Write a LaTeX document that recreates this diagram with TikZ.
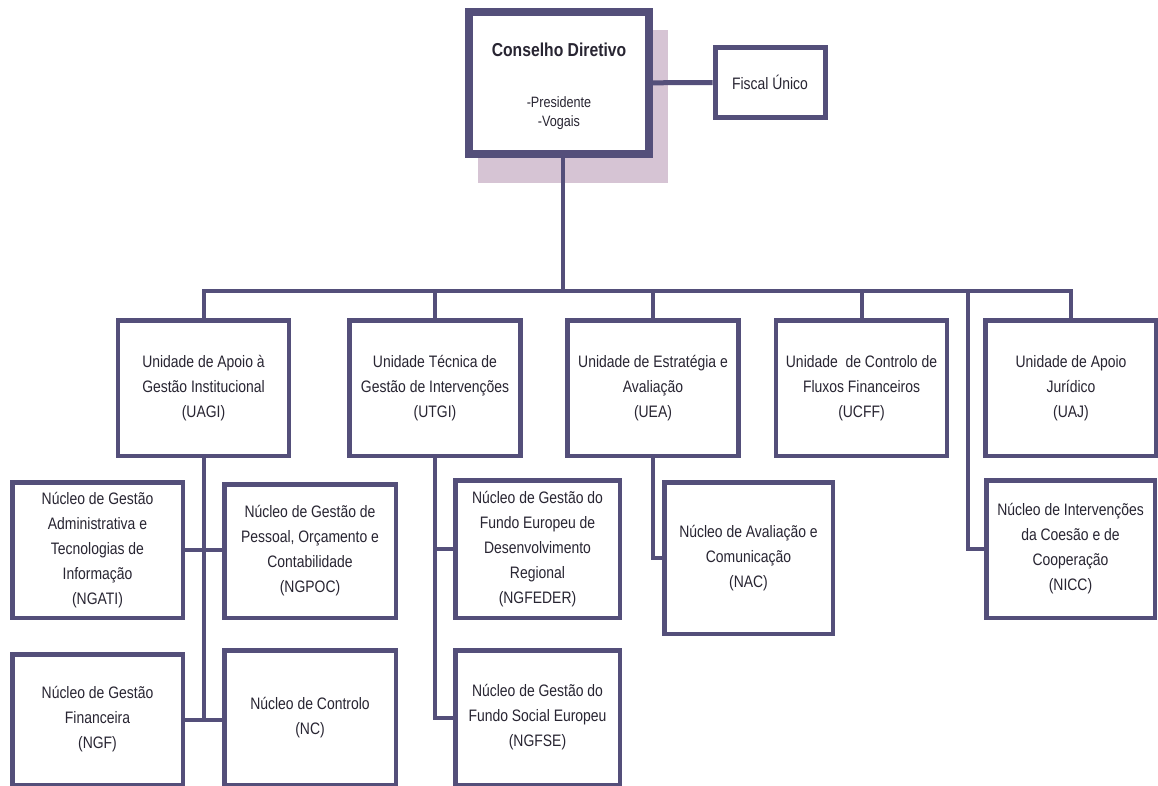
\documentclass[tikz,border=0pt]{standalone}
\usepackage{fontspec}
\setmainfont[FakeStretch=0.84]{Liberation Sans}
\definecolor{orgline}{RGB}{84,79,122}
\definecolor{orgshade}{RGB}{214,196,212}
\definecolor{orgtext}{RGB}{40,37,50}

\begin{document}
\begin{tikzpicture}[
			x = 1pt, y = -1pt,
			unit/.style = {draw=orgline, line width=4.5pt, fill=white, text=orgtext, align=center, inner sep=2pt, font=\fontsize{16.6}{25}\selectfont},
			toprow/.style = {unit, minimum width=171pt, minimum height=135.5pt},
			link/.style = {draw=orgline, line width=4pt}
			]

			\fill[white] (0,0) rectangle (1158,786);
			\useasboundingbox (0,0) rectangle (1158,786);

			\fill[orgshade] (478,30) rectangle (668,183);
			\node[unit, line width=8pt, minimum width=180pt, minimum height=142pt] (cd) at (559,83) {};
			\node[text=orgtext, font=\fontsize{18.7}{20}\bfseries] (cdtitle) at (559,50) {Conselho Diretivo};
			\node[text=orgtext, align=center, font=\fontsize{15}{19}\selectfont] (cdmembers) at (559,113) {-Presidente\\-Vogais};
			\node[unit, line width=5pt, minimum width=110pt, minimum height=70pt] (fu) at (770,82.5) {Fiscal Único};

			\node[toprow] (uagi) at (203.5,388) {Unidade de Apoio à\\Gestão Institucional\\(UAGI)};
			\node[toprow] (utgi) at (435,388) {Unidade Técnica de\\Gestão de Intervenções\\(UTGI)};
			\node[toprow] (uea) at (653,388) {Unidade de Estratégia e\\Avaliação\\(UEA)};
			\node[toprow] (ucff) at (861.5,388) {Unidade~ de Controlo de\\Fluxos Financeiros\\(UCFF)};
			\node[toprow] (uaj) at (1071,388) {Unidade de Apoio\\Jurídico\\(UAJ)};

			\node[unit, minimum width=170.5pt, minimum height=135.5pt] (ngati) at (97.5,550) {Núcleo de Gestão\\Administrativa e\\Tecnologias de\\Informação\\(NGATI)};
			\node[unit, minimum width=171.5pt, minimum height=133.5pt] (ngpoc) at (310,551) {Núcleo de Gestão de\\Pessoal, Orçamento e\\Contabilidade\\(NGPOC)};
			\node[unit, minimum width=164.5pt, minimum height=137.5pt] (ngfeder) at (537.5,549) {Núcleo de Gestão do\\Fundo Europeu de\\Desenvolvimento\\Regional\\(NGFEDER)};
			\node[unit, minimum width=168.5pt, minimum height=151.5pt] (nac) at (748.5,558) {Núcleo de Avaliação e\\Comunicação\\(NAC)};
			\node[unit, minimum width=168.5pt, minimum height=137.5pt] (nicc) at (1070.5,549) {Núcleo de Intervenções\\da Coesão e de\\Cooperação\\(NICC)};

			\node[unit, minimum width=170.5pt, minimum height=130.5pt] (ngf) at (97.5,719.5) {Núcleo de Gestão\\Financeira\\(NGF)};
			\node[unit, minimum width=171.5pt, minimum height=134.5pt] (nc) at (310,717.5) {Núcleo de Controlo\\(NC)};
			\node[unit, minimum width=164.5pt, minimum height=134.5pt] (ngfse) at (537.5,717.5) {Núcleo de Gestão do\\Fundo Social Europeu\\(NGFSE)};

			\coordinate (bus) at (563,291);
			\coordinate (fork) at (968,291);

			\draw[link, line width=5pt] (cd) -- (fu);
			\draw[link] (cd.south -| bus) -- (bus);
			\draw[link] (uagi.north) |- (bus) -| (uaj.north);
			\foreach \n in {utgi,uea,ucff}
				\draw[link] (\n.north) -- (\n.north |- bus);
			\draw[link] (fork) |- (nicc.west);

			\draw[link] (uagi.south) -- (uagi.south |- ngf.east);
			\draw[link] (ngati.east) -- (ngati.east -| ngpoc.west);
			\draw[link] (ngf.east) -- (ngf.east -| nc.west);

			\draw[link] (utgi.south) |- (ngfse.west);
			\draw[link] (utgi.south |- ngfeder.west) -- (ngfeder.west);
			\draw[link] (uea.south) |- (nac.west);

		\end{tikzpicture}
\end{document}
